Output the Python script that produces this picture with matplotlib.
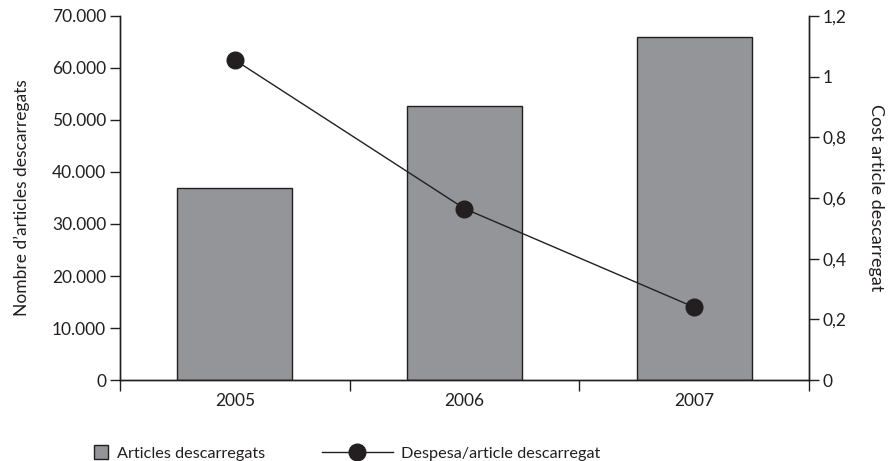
import matplotlib
matplotlib.use('Agg')
import matplotlib.pyplot as plt
from matplotlib.ticker import FuncFormatter
from matplotlib.lines import Line2D

years = ['2005', '2006', '2007']
articles = [37000, 52700, 66000]
cost = [1.055, 0.565, 0.24]

plt.rcParams['font.family'] = ['Lato', 'DejaVu Sans']
plt.rcParams['font.size'] = 12.5
plt.rcParams['text.color'] = '#231f20'

fig = plt.figure(figsize=(8.9, 4.61), dpi=100)
ax = fig.add_axes([0.1348, 0.1757, 0.7742, 0.7896])
ax2 = ax.twinx()

x = list(range(len(years)))
ax.bar(x, articles, width=0.5, color='#939598', edgecolor='#231f20', linewidth=1.0, zorder=2)
ax2.plot(x, cost, color='#231f20', linewidth=1.0, marker='o', markersize=12, zorder=3)

ax.set_xlim(-0.5, 2.5)
ax.set_ylim(0, 70000)
ax2.set_ylim(0, 1.2)
ax.set_yticks(range(0, 70001, 10000))
ax2.set_yticks([0, 0.2, 0.4, 0.6, 0.8, 1.0, 1.2])

ax.yaxis.set_major_formatter(FuncFormatter(lambda v, p: f'{int(v):,}'.replace(',', '.')))
ax2.yaxis.set_major_formatter(FuncFormatter(lambda v, p: ('%g' % round(v, 1)).replace('.', ',')))

# category ticks at boundaries, labels centred
ax.set_xticks([-0.5, 0.5, 1.5, 2.5])
ax.set_xticklabels([])
ax.set_xticks(x, minor=True)
ax.set_xticklabels(years, minor=True)
ax.tick_params(axis='x', which='major', direction='out', length=8, width=1, color='#231f20')
ax.tick_params(axis='x', which='minor', length=0, pad=9, labelcolor='#231f20')
ax.tick_params(axis='y', direction='out', length=7, width=1, color='#231f20', labelcolor='#231f20', pad=3)
ax2.tick_params(axis='y', direction='out', length=7, width=1, color='#231f20', labelcolor='#231f20', pad=3)

for a in (ax, ax2):
    a.spines['top'].set_visible(False)
    for s in ('left', 'right', 'bottom'):
        a.spines[s].set_color('#231f20')
        a.spines[s].set_linewidth(1)

ax.set_ylabel("Nombre d’articles descarregats", fontsize=12.5, labelpad=16, color='#231f20')
ax2.set_ylabel('Cost article descarregat', fontsize=13, rotation=270, labelpad=27, color='#231f20')

h1 = Line2D([], [], linestyle='none', marker='s', markersize=10,
            markerfacecolor='#939598', markeredgecolor='#231f20', markeredgewidth=1)
h2 = Line2D([], [], color='#231f20', linewidth=1, marker='o', markersize=12)
leg1 = fig.legend([h1], ['Articles descarregats'], loc='center left',
                  bbox_to_anchor=(0.088, 0.016), frameon=False, handlelength=1,
                  handletextpad=0.45, fontsize=11.7)
leg2 = fig.legend([h2], ['Despesa/article descarregat'], loc='center left',
                  bbox_to_anchor=(0.345, 0.016), frameon=False, handlelength=4.4,
                  handletextpad=0.5, fontsize=11.7)

fig.savefig('out.png', dpi=100)
